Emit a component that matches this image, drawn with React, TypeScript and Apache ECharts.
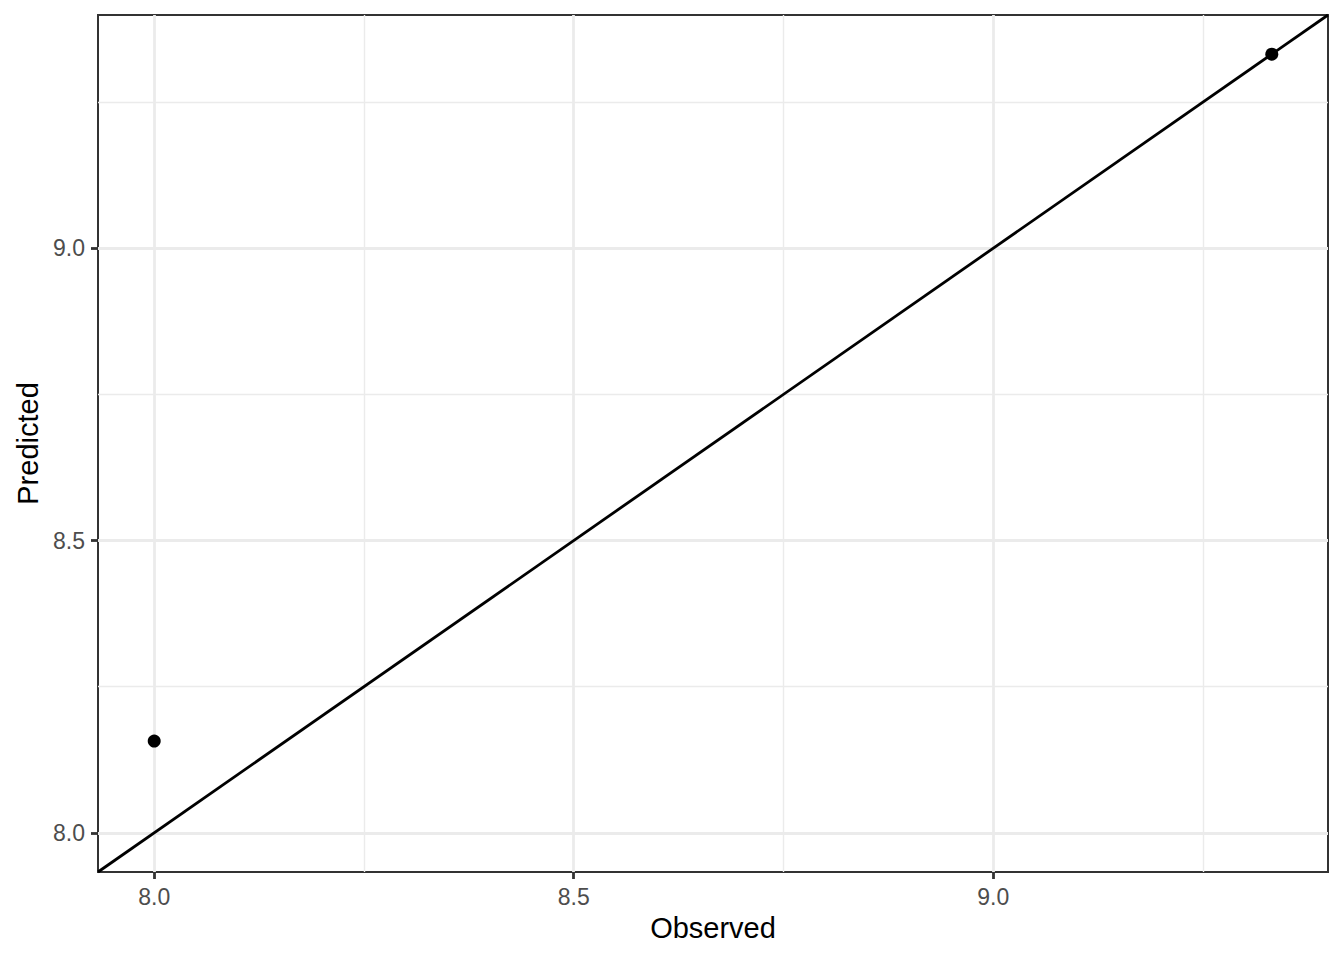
import React, { useEffect, useRef } from "react";
import * as echarts from "echarts";

// Data
const observed = [8.0, 9.332];
const predicted = [8.157, 9.332];
// Shared axis limits (data range with 5% expansion, same for both axes)
const axisMin = 7.933;
const axisMax = 9.399;
const tickValues = [8.0, 8.5, 9.0];
const identityLine = [
  [axisMin, axisMin],
  [axisMax, axisMax],
];

const FONT = "'Liberation Sans', Arial, Helvetica, sans-serif";

function makeAxis(name: string, isX: boolean) {
  return {
    type: "value",
    min: axisMin,
    max: axisMax,
    splitNumber: 3,
    minInterval: 0.5,
    maxInterval: 0.5,
    name,
    nameLocation: "middle",
    nameGap: isX ? 41 : 56,
    nameTextStyle: { color: "#000000", fontSize: 29, fontFamily: FONT },
    axisLine: { show: false },
    axisTick: {
      show: true,
      length: 7,
      customValues: tickValues,
      lineStyle: { color: "#333333", width: 2.8 },
    },
    axisLabel: {
      show: true,
      margin: 13,
      color: "#4D4D4D",
      fontSize: 23,
      fontFamily: FONT,
      customValues: tickValues,
      formatter: (v: number) => v.toFixed(1),
    },
    splitLine: { show: true, lineStyle: { color: "#EBEBEB", width: 2.8 } },
    minorTick: { show: false, splitNumber: 2 },
    minorSplitLine: { show: true, lineStyle: { color: "#EBEBEB", width: 1.4 } },
  };
}

export default function App() {
  const ref = useRef<HTMLDivElement>(null);
  useEffect(() => {
    document.body.style.margin = "0";
    if (!ref.current) return;
    const chart = echarts.init(ref.current, undefined, { renderer: "svg" });
    chart.setOption({
      animation: false,
      backgroundColor: "#FFFFFF",
      grid: {
        left: 98,
        top: 15,
        right: 16,
        bottom: 88,
        show: true,
        borderColor: "#333333",
        borderWidth: 2,
        backgroundColor: "transparent",
      },
      xAxis: makeAxis("Observed", true),
      yAxis: makeAxis("Predicted", false),
      series: [
        {
          type: "line",
          data: identityLine,
          symbol: "none",
          lineStyle: { color: "#000000", width: 2.8 },
          silent: true,
          z: 2,
        },
        {
          type: "scatter",
          data: observed.map((x, i) => [x, predicted[i]]),
          symbol: "circle",
          symbolSize: 13,
          itemStyle: { color: "#000000", opacity: 1 },
          z: 3,
        },
      ],
    });
    return () => chart.dispose();
  }, []);
  return (
    <div
      ref={ref}
      style={{ position: "absolute", left: 0, top: 0, width: 1344, height: 960 }}
    />
  );
}
